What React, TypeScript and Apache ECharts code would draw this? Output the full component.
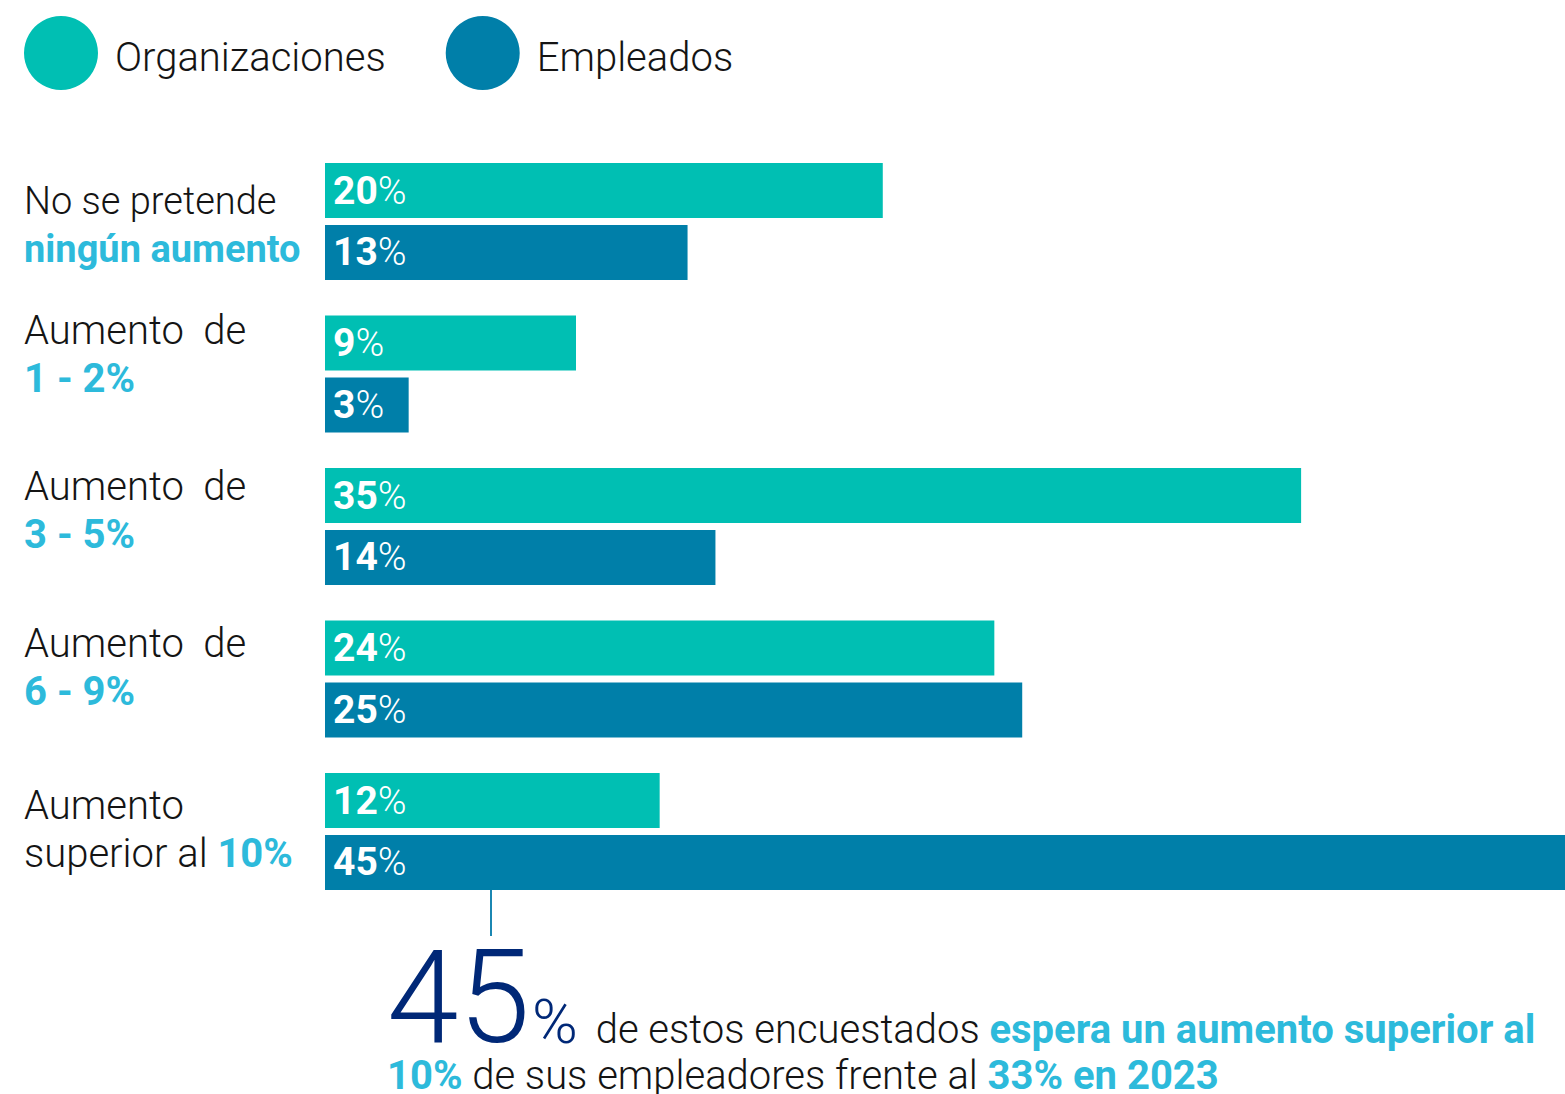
import React, { useEffect, useRef } from 'react';
import * as echarts from 'echarts';

// ---- data ----
const seriesNames = ['Organizaciones', 'Empleados'];
const categoryTop = ['No se pretende', 'Aumento  de', 'Aumento  de', 'Aumento  de', 'Aumento'];
const categoryBottomPlain = ['', '', '', '', 'superior al '];
const categoryBottomHighlight = ['ningún aumento', '1 - 2%', '3 - 5%', '6 - 9%', '10%'];
const organizaciones = [20, 9, 35, 24, 12];
const empleados = [13, 3, 14, 25, 45];
const noteBig = '45';
const noteLine1Plain = ' de estos encuestados ';
const noteLine1Highlight = 'espera un aumento superior al';
const noteLine2 = [
  ['h', '10%'],
  ['t', ' de sus empleadores frente al '],
  ['h', '33% en 2023'],
];

// ---- layout / style constants ----
const labelNudge = [3, -20, -16, -12, -2];
const labelSize = ['s', 'l', 'l', 'l', 'l'];
const TEAL = '#00BFB3';
const BLUE = '#007FA9';
const HL = '#2DBADB';
const NAVY = '#002877';
const DARK = '#141414';
const FONT = 'Roboto';

export default function App() {
  const ref = useRef<HTMLDivElement>(null);

  useEffect(() => {
    if (!ref.current) return;
    const chart = echarts.init(ref.current, undefined, { renderer: 'svg' });

    const yData = categoryTop.map((top, i) => {
      const n = labelNudge[i];
      const s = labelSize[i];
      const padding = n < 0 ? [0, 0, -2 * n, 0] : [2 * n, 0, 0, 0];
      const bottom =
        (categoryBottomPlain[i] ? `{p${s}|${categoryBottomPlain[i]}}` : '') +
        `{h${s}|${categoryBottomHighlight[i]}}`;
      return {
        value: `{p${s}|${top}}\n${bottom}`,
        textStyle: { padding, align: 'left' },
      };
    });

    const barLabel = {
      show: true,
      position: 'insideLeft',
      distance: 8,
      formatter: (p: any) => `{b|${p.value}}{r|%}`,
      rich: {
        b: { fontFamily: FONT, fontSize: 39, fontWeight: 'bold', color: '#fff' },
        r: { fontFamily: FONT, fontSize: 39, fontWeight: 300, color: '#fff' },
      },
    };

    const catTok = (fs: number, weight: any, color: string) => ({
      fontFamily: FONT,
      fontSize: fs,
      fontWeight: weight,
      color,
      lineHeight: 48,
    });

    // tokens bottom-aligned; smaller tokens lifted so baselines match the big one
    const tok = (fs: number, weight: any, color: string, lift: number) => ({
      fontFamily: FONT,
      fontSize: fs,
      fontWeight: weight,
      fill: color,
      verticalAlign: 'bottom',
      padding: [0, 0, lift, 0],
    });
    const BIG = 129;
    const liftFor = (fs: number) => Math.round(0.145 * (BIG - fs));

    chart.setOption({
      animation: false,
      legend: {
        left: 24,
        top: 16,
        padding: 0,
        icon: 'circle',
        itemWidth: 74,
        itemHeight: 74,
        itemGap: 60,
        selectedMode: false,
        data: seriesNames,
        formatter: '{t|{name}}',
        textStyle: {
          fontFamily: FONT,
          fontSize: 40,
          fontWeight: 300,
          color: DARK,
          rich: {
            t: {
              fontFamily: FONT,
              fontSize: 40,
              fontWeight: 300,
              color: DARK,
              padding: [8, 0, 0, 12],
            },
          },
        },
      },
      grid: {
        left: 325,
        top: 145.25,
        height: 762.5,
        width: 1255,
        containLabel: false,
        outerBoundsMode: 'none',
      },
      xAxis: { type: 'value', min: 0, max: 45, show: false },
      yAxis: {
        type: 'category',
        inverse: true,
        data: yData,
        axisLine: { show: false },
        axisTick: { show: false },
        splitLine: { show: false },
        axisLabel: {
          margin: 301,
          align: 'left',
          lineHeight: 48,
          rich: {
            ps: catTok(38, 300, DARK),
            hs: catTok(38, 'bold', HL),
            pl: catTok(40, 300, DARK),
            hl: catTok(40, 'bold', HL),
          },
        },
      },
      series: [
        {
          name: seriesNames[0],
          type: 'bar',
          data: organizaciones,
          barWidth: 55,
          barGap: '12.7%',
          itemStyle: { color: TEAL },
          label: barLabel,
        },
        {
          name: seriesNames[1],
          type: 'bar',
          data: empleados,
          barWidth: 55,
          barGap: '12.7%',
          itemStyle: { color: BLUE },
          label: barLabel,
        },
      ],
      graphic: [
        {
          type: 'line',
          shape: { x1: 491, y1: 890, x2: 491, y2: 936 },
          style: { stroke: '#1B87B2', lineWidth: 2 },
        },
        {
          type: 'text',
          x: 387,
          y: 1062,
          style: {
            text: `{big|${noteBig}}{pct|%}{t|${noteLine1Plain}}{h|${noteLine1Highlight}}`,
            verticalAlign: 'bottom',
            rich: {
              big: tok(BIG, 300, NAVY, 0),
              pct: { ...tok(62, 300, NAVY, liftFor(62)), padding: [0, 8, liftFor(62), 2] },
              t: tok(40, 300, DARK, liftFor(40)),
              h: tok(40, 'bold', HL, liftFor(40)),
            },
          },
        },
        {
          type: 'text',
          x: 387,
          y: 1095,
          style: {
            text: noteLine2.map(([k, s]) => `{${k}|${s}}`).join(''),
            verticalAlign: 'bottom',
            rich: {
              t: tok(40, 300, DARK, 0),
              h: tok(40, 'bold', HL, 0),
            },
          },
        },
      ],
    });

    return () => chart.dispose();
  }, []);

  return (
    <div
      ref={ref}
      style={{ position: 'absolute', left: 0, top: 0, width: 1565, height: 1094, background: '#fff' }}
    />
  );
}
